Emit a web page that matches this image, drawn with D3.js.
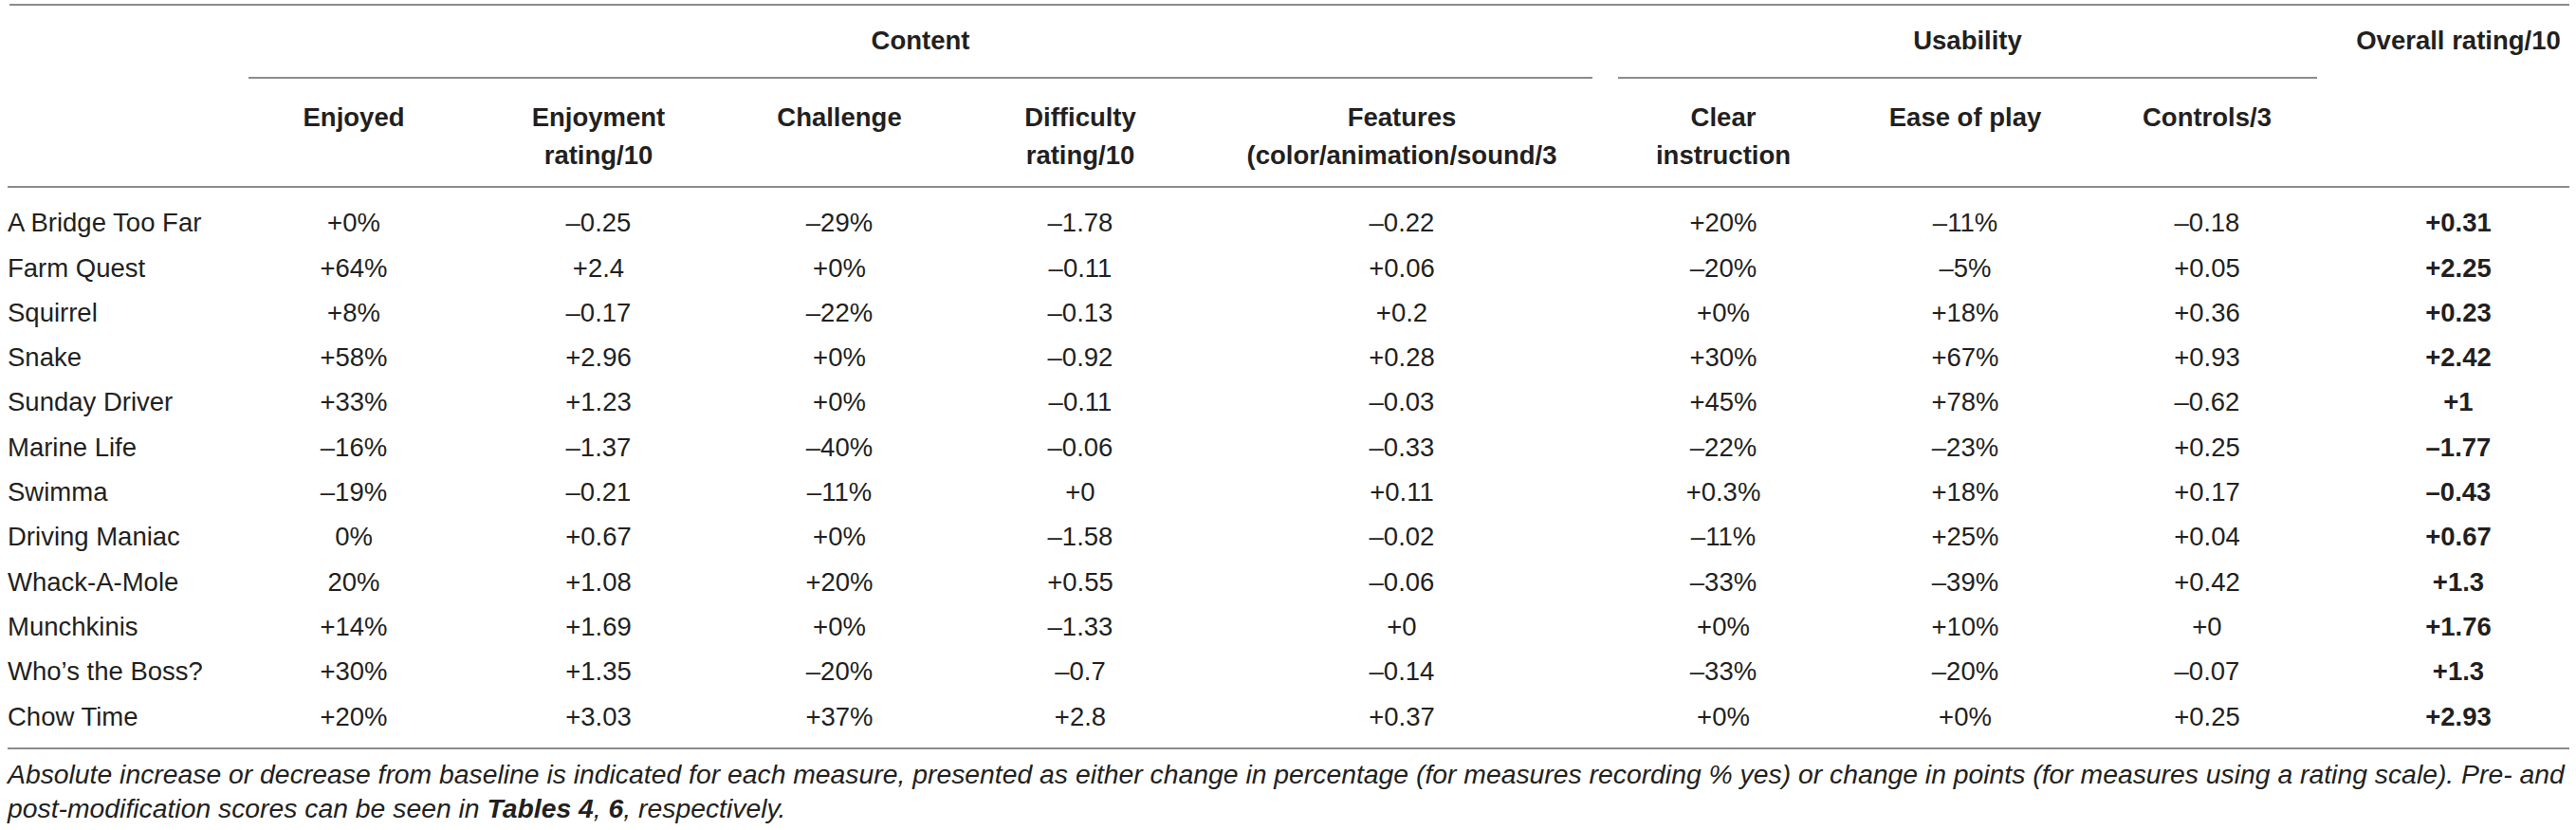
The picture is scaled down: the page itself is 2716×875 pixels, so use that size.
<!DOCTYPE html>
<html>
<head>
<meta charset="utf-8">
<script src="https://cdn.jsdelivr.net/npm/d3@7"></script>
<style>
  html, body { margin: 0; padding: 0; background: #fff; }
  svg text { font-family: "Liberation Sans", Arial, Helvetica, sans-serif; fill: #231f20; }
</style>
</head>
<body>
<div id="table"></div>
<script>
// games (rows)
const games = ['A Bridge Too Far', 'Farm Quest', 'Squirrel', 'Snake', 'Sunday Driver', 'Marine Life',
  'Swimma', 'Driving Maniac', 'Whack-A-Mole', 'Munchkinis', 'Who\u2019s the Boss?', 'Chow Time'];

// one array per column, as printed
const enjoyed = ['+0%', '+64%', '+8%', '+58%', '+33%', '\u201316%', '\u201319%', '0%', '20%', '+14%', '+30%', '+20%'];
const enjoymentRating = ['\u20130.25', '+2.4', '\u20130.17', '+2.96', '+1.23', '\u20131.37', '\u20130.21', '+0.67', '+1.08', '+1.69', '+1.35', '+3.03'];
const challenge = ['\u201329%', '+0%', '\u201322%', '+0%', '+0%', '\u201340%', '\u201311%', '+0%', '+20%', '+0%', '\u201320%', '+37%'];
const difficultyRating = ['\u20131.78', '\u20130.11', '\u20130.13', '\u20130.92', '\u20130.11', '\u20130.06', '+0', '\u20131.58', '+0.55', '\u20131.33', '\u20130.7', '+2.8'];
const features = ['\u20130.22', '+0.06', '+0.2', '+0.28', '\u20130.03', '\u20130.33', '+0.11', '\u20130.02', '\u20130.06', '+0', '\u20130.14', '+0.37'];
const clearInstruction = ['+20%', '\u201320%', '+0%', '+30%', '+45%', '\u201322%', '+0.3%', '\u201311%', '\u201333%', '+0%', '\u201333%', '+0%'];
const easeOfPlay = ['\u201311%', '\u20135%', '+18%', '+67%', '+78%', '\u201323%', '+18%', '+25%', '\u201339%', '+10%', '\u201320%', '+0%'];
const controls = ['\u20130.18', '+0.05', '+0.36', '+0.93', '\u20130.62', '+0.25', '+0.17', '+0.04', '+0.42', '+0', '\u20130.07', '+0.25'];
const overall = ['+0.31', '+2.25', '+0.23', '+2.42', '+1', '\u20131.77', '\u20130.43', '+0.67', '+1.3', '+1.76', '+1.3', '+2.93'];

// column headers
const columnKeys = ['enjoyed', 'enjoymentRating', 'challenge', 'difficultyRating', 'features',
  'clearInstruction', 'easeOfPlay', 'controls', 'overall'];
const columnLabels = [['Enjoyed'], ['Enjoyment', 'rating/10'], ['Challenge'], ['Difficulty', 'rating/10'],
  ['Features', '(color/animation/sound/3'], ['Clear', 'instruction'], ['Ease of play'], ['Controls/3'], []];
const groupLabels = ['Content', 'Usability', 'Overall rating/10'];
const groupSpans = [['enjoyed', 'features'], ['clearInstruction', 'controls'], ['overall', 'overall']];

const captionLines = [
  [{ t: 'Absolute increase or decrease from baseline is indicated for each measure, presented as either change in percentage (for measures recording % yes) or change in points (for measures using a rating scale). Pre- and' }],
  [{ t: 'post-modification scores can be seen in ' }, { t: 'Tables 4', b: true }, { t: ', ' }, { t: '6', b: true }, { t: ', respectively.' }]
];

const columns = {
  enjoyed, enjoymentRating, challenge, difficultyRating, features,
  clearInstruction, easeOfPlay, controls, overall
};

const width = 2716;
const height = 875;
const fontSize = 27.5;
const lineColor = '#8c8c8c';

const svg = d3
  .select('#table')
  .append('svg')
  .attr('width', width)
  .attr('height', height);

// column centres
const x = d3.scaleOrdinal()
  .domain(columnKeys)
  .range([373, 631, 885, 1139, 1478, 1817, 2072, 2327, 2592]);

// half width of each column cell, used for the group rules
const halfCell = d3.scaleOrdinal()
  .domain(columnKeys)
  .range([111, 127, 127, 127, 201, 111, 127, 116, 120]);

// row centres
const y = d3.scalePoint()
  .domain(games)
  .range([234.6, 755]);

// horizontal rules
const rules = [
  { x1: 10, x2: 2709, y: 5 },
  { x1: 8, x2: 2709, y: 197 },
  { x1: 8, x2: 2709, y: 789 }
];
svg.selectAll('.rule')
  .data(rules)
  .join('line')
  .attr('class', 'rule')
  .attr('x1', (d) => d.x1)
  .attr('x2', (d) => d.x2)
  .attr('y1', (d) => d.y)
  .attr('y2', (d) => d.y)
  .attr('stroke', lineColor)
  .attr('stroke-width', 2);

// group headers
const groups = groupLabels.map((label, i) => {
  const a = groupSpans[i][0];
  const b = groupSpans[i][1];
  return { label, left: x(a) - halfCell(a), right: x(b) + halfCell(b), span: a !== b };
});

svg.selectAll('.group-label')
  .data(groups)
  .join('text')
  .attr('class', 'group-label')
  .attr('x', (d) => (d.left + d.right) / 2)
  .attr('y', 42)
  .attr('dy', '0.35em')
  .attr('text-anchor', 'middle')
  .attr('font-weight', 'bold')
  .attr('font-size', fontSize)
  .text((d) => d.label);

svg.selectAll('.group-rule')
  .data(groups.filter((d) => d.span))
  .join('line')
  .attr('class', 'group-rule')
  .attr('x1', (d) => d.left)
  .attr('x2', (d) => d.right)
  .attr('y1', 82)
  .attr('y2', 82)
  .attr('stroke', lineColor)
  .attr('stroke-width', 2);

// column headers
const headerY = d3.scalePoint().domain([0, 1]).range([123, 163]);
const header = svg.selectAll('.col-header')
  .data(columnKeys.map((k, i) => ({ key: k, lines: columnLabels[i] })))
  .join('g')
  .attr('class', 'col-header');

header.selectAll('text')
  .data((d) => d.lines.map((line, j) => ({ key: d.key, line, j })))
  .join('text')
  .attr('x', (d) => x(d.key))
  .attr('y', (d) => headerY(d.j))
  .attr('dy', '0.35em')
  .attr('text-anchor', 'middle')
  .attr('font-weight', 'bold')
  .attr('font-size', fontSize)
  .text((d) => d.line);

// row labels
svg.selectAll('.row-label')
  .data(games)
  .join('text')
  .attr('class', 'row-label')
  .attr('x', 8)
  .attr('y', (d) => y(d))
  .attr('dy', '0.35em')
  .attr('font-size', fontSize)
  .text((d) => d);

// cells
const cells = [];
columnKeys.forEach((key) => {
  columns[key].forEach((v, i) => {
    cells.push({ key, game: games[i], value: v });
  });
});

svg.selectAll('.cell')
  .data(cells)
  .join('text')
  .attr('class', 'cell')
  .attr('x', (d) => x(d.key))
  .attr('y', (d) => y(d.game))
  .attr('dy', '0.35em')
  .attr('text-anchor', 'middle')
  .attr('font-size', fontSize)
  .attr('font-weight', (d) => (d.key === 'overall' ? 'bold' : 'normal'))
  .text((d) => d.value);

// caption, sized so the first line fills the table width
const captionY = [826, 862];
const caption = svg.selectAll('.caption')
  .data(captionLines)
  .join('text')
  .attr('class', 'caption')
  .attr('x', 8)
  .attr('y', (d, i) => captionY[i])
  .attr('font-style', 'italic')
  .attr('font-size', 26);

caption.selectAll('tspan')
  .data((d) => d)
  .join('tspan')
  .attr('font-weight', (d) => (d.b ? 'bold' : 'normal'))
  .text((d) => d.t);

const firstLen = caption.node().getComputedTextLength();
const captionSize = 26 * (2697 / firstLen);
caption.attr('font-size', captionSize);
</script>
</body>
</html>
